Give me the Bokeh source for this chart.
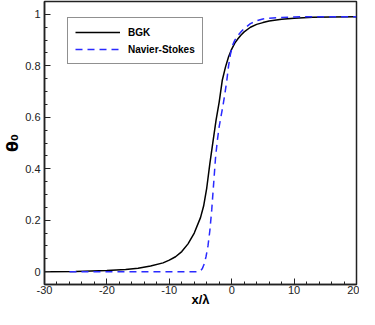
from bokeh.plotting import figure
from bokeh.models import FixedTicker, CustomJSTickFormatter, Legend, LegendItem, Range1d
from bokeh.embed import file_html
from bokeh.resources import INLINE

# BGK solution
bgk_x = [-30, -25, -20, -17, -15, -13, -11, -10, -9, -8, -7, -6, -5, -4.5, -4,
         -3.5, -3, -2.5, -2, -1.5, -1, -0.5, 0, 0.5, 1, 1.5, 2, 3, 4, 5, 6, 8,
         10, 13, 16, 20]
bgk_y = [0.0, 0.001, 0.004, 0.008, 0.013, 0.022, 0.034, 0.045, 0.058, 0.078,
         0.108, 0.15, 0.21, 0.255, 0.325, 0.42, 0.505, 0.59, 0.66, 0.745, 0.795,
         0.835, 0.865, 0.888, 0.905, 0.92, 0.932, 0.95, 0.961, 0.968, 0.974,
         0.981, 0.985, 0.989, 0.99, 0.991]

# Navier-Stokes solution
ns_x = [-26, -20, -10, -5.5, -5, -4.7, -4.4, -4.1, -3.8, -3.5, -3.2, -2.9, -2.6,
        -2.3, -2.0, -1.7, -1.4, -1.1, -0.8, -0.5, -0.2, 0.1, 0.5, 1, 1.5, 2, 3,
        4, 5, 6, 8, 10, 14, 20]
ns_y = [0.0, 0.0, 0.0, 0.0, 0.003, 0.012, 0.03, 0.06, 0.1, 0.16, 0.24, 0.34,
        0.44, 0.51, 0.565, 0.605, 0.645, 0.69, 0.74, 0.8, 0.845, 0.877, 0.9,
        0.918, 0.932, 0.945, 0.964, 0.975, 0.982, 0.985, 0.988, 0.99, 0.991, 0.991]

x_ticks = [-30, -20, -10, 0, 10, 20]
y_ticks = [0, 0.2, 0.4, 0.6, 0.8, 1.0]
x_minor = list(range(-30, 21, 2))
y_minor = [round(-0.05 + 0.05 * i, 2) for i in range(23)]

p = figure(width=359, height=309, output_backend="svg", toolbar_location=None,
           x_range=Range1d(-30, 20), y_range=Range1d(-0.05, 1.05),
           min_border_left=39, min_border_right=3, min_border_top=1,
           min_border_bottom=0)

p.xgrid.visible = False
p.ygrid.visible = False
p.outline_line_color = "#222222"
p.outline_line_width = 1.5
p.background_fill_color = "white"
p.border_fill_color = "white"

l1 = p.line(bgk_x, bgk_y, line_color="black", line_width=1.5)
l2 = p.line(ns_x, ns_y, line_color="#2a2aff", line_width=1.5, line_dash="7 5")

fmt = CustomJSTickFormatter(code="return (Math.round(tick*10)/10).toString();")

for ax, ticks, minor in ((p.xaxis[0], x_ticks, x_minor), (p.yaxis[0], y_ticks, y_minor)):
    ax.ticker = FixedTicker(ticks=ticks, minor_ticks=minor)
    ax.formatter = fmt
    ax.major_tick_in = 6
    ax.major_tick_out = 0
    ax.minor_tick_in = 3
    ax.minor_tick_out = 0
    ax.axis_line_color = "#222222"
    ax.axis_line_width = 1.5
    ax.major_tick_line_color = "#222222"
    ax.minor_tick_line_color = "#222222"
    ax.major_label_text_font = "Liberation Sans"
    ax.major_label_text_font_size = "11px"
    ax.major_label_text_color = "#222222"
    ax.axis_label_text_font = "Liberation Sans"
    ax.axis_label_text_font_style = "bold"
    ax.axis_label_text_font_size = "13px"
    ax.axis_label_text_color = "black"

p.xaxis[0].axis_label = "x/λ"
p.yaxis[0].axis_label = "θ₀"
p.yaxis[0].axis_label_text_font = "DejaVu Sans"
p.yaxis[0].axis_label_text_font_size = "16px"
p.xaxis[0].major_label_standoff = 1
p.xaxis[0].axis_label_standoff = -5
p.yaxis[0].major_label_standoff = 4
p.yaxis[0].axis_label_standoff = 0

legend = Legend(items=[LegendItem(label="BGK", renderers=[l1]),
                       LegendItem(label="Navier-Stokes", renderers=[l2])],
                location=(23, 220))
legend.label_text_font = "Liberation Sans"
legend.label_text_font_style = "bold"
legend.label_text_font_size = "10px"
legend.label_text_color = "black"
legend.glyph_width = 45
legend.glyph_height = 14
legend.label_height = 14
legend.spacing = 3
legend.padding = 7
legend.margin = 0
legend.label_standoff = 8
legend.border_line_color = "#222222"
legend.border_line_width = 1.2
legend.background_fill_alpha = 1.0
p.add_layout(legend, "center")

open("out.html", "w").write(file_html(p, INLINE))
